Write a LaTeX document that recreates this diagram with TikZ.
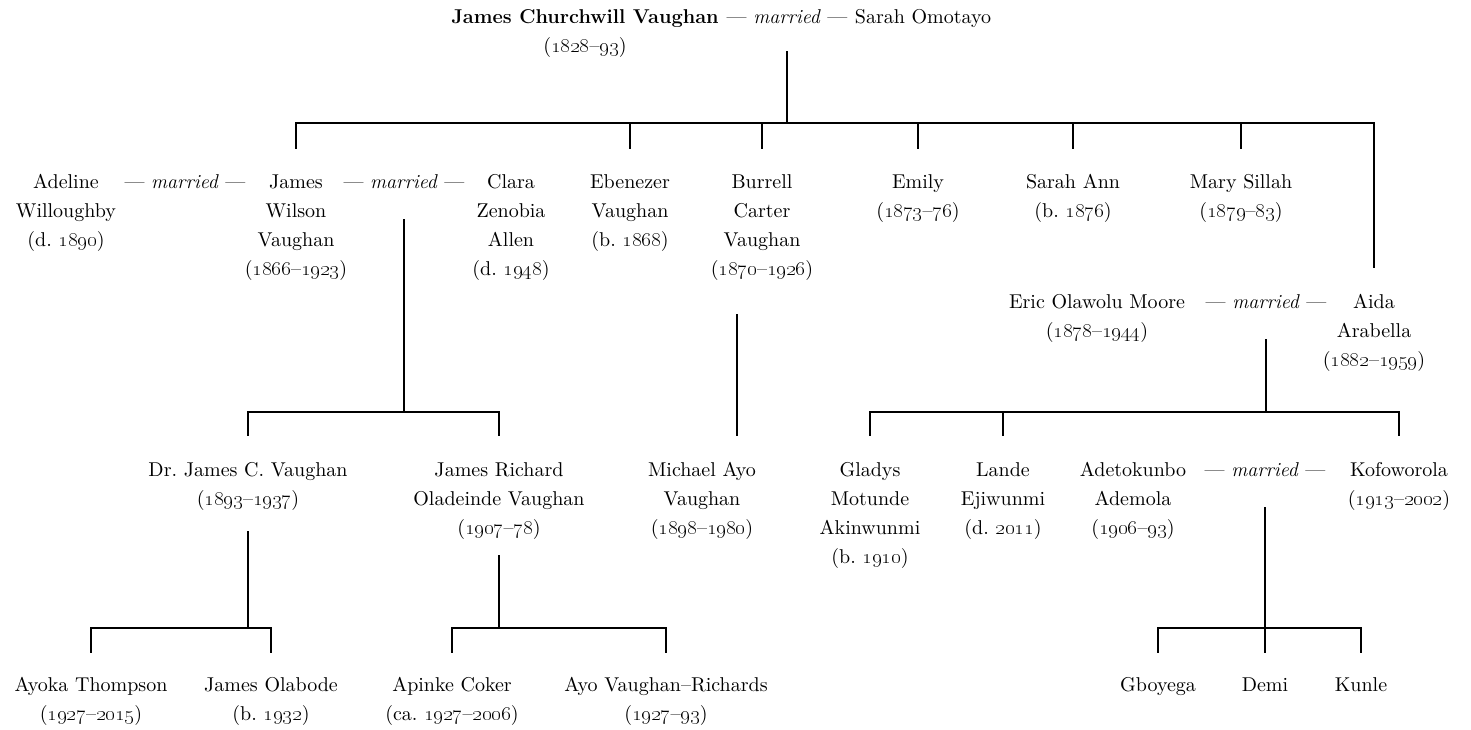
\documentclass[tikz,border=0pt]{standalone}
\DeclareFontShape{TU}{lmr}{m}{n}{<->"[lmroman10-regular]:mapping=tex-text;"}{}
\newcommand\os[1]{\oldstylenums{#1}}
\newcommand\pp[1]{\begin{tabular}[t]{@{}c@{}}#1\end{tabular}}
\tikzset{
  person/.style={anchor=base, inner sep=0pt, font=\fontsize{20}{29.3}\selectfont},
  conn/.style={line width=1.1pt, line cap=rect},
}
\begin{document}
\begin{tikzpicture}[x=1pt,y=-1pt]
\useasboundingbox (0,0) rectangle (1471,729);
% generation 0
\node[person] (jcvs) at (585,23) {\pp{\textbf{James Churchwill Vaughan}\\(\os{1828}--\os{93})}};
\node[person] (m0) at (787,23) {--- \textit{married} ---};
\node[person] (so) at (923,23) {Sarah Omotayo};
% generation 1
\node[person] (ad) at (66,188) {\pp{Adeline\\Willoughby\\(d.~\os{1890})}};
\node[person] (m1) at (185,188) {--- \textit{married} ---};
\node[person] (jwv) at (296,188) {\pp{James\\Wilson\\Vaughan\\(\os{1866}--\os{1923})}};
\node[person] (m2) at (404,188) {--- \textit{married} ---};
\node[person] (cza) at (511,188) {\pp{Clara\\Zenobia\\Allen\\(d.~\os{1948})}};
\node[person] (ebe) at (630,188) {\pp{Ebenezer\\Vaughan\\(b.~\os{1868})}};
\node[person] (bcv) at (762,188) {\pp{Burrell\\Carter\\Vaughan\\(\os{1870}--\os{1926})}};
\node[person] (emi) at (918,188) {\pp{Emily\\(\os{1873}--\os{76})}};
\node[person] (sa) at (1073,188) {\pp{Sarah Ann\\(b.~\os{1876})}};
\node[person] (ms) at (1241,188) {\pp{Mary Sillah\\(\os{1879}--\os{83})}};
\node[person] (eom) at (1097,308) {\pp{Eric Olawolu Moore\\(\os{1878}--\os{1944})}};
\node[person] (m3) at (1266,308) {--- \textit{married} ---};
\node[person] (aida) at (1374,308) {\pp{Aida\\Arabella\\(\os{1882}--\os{1959})}};
% generation 2
\node[person] (jcv) at (248,476) {\pp{Dr.~James C. Vaughan\\(\os{1893}--\os{1937})}};
\node[person] (jrov) at (499,476) {\pp{James Richard\\Oladeinde Vaughan\\(\os{1907}--\os{78})}};
\node[person] (mav) at (702,476) {\pp{Michael Ayo\\Vaughan\\(\os{1898}--\os{1980})}};
\node[person] (gma) at (870,476) {\pp{Gladys\\Motunde\\Akinwunmi\\(b.~\os{1910})}};
\node[person] (le) at (1003,476) {\pp{Lande\\Ejiwunmi\\(d.~\os{2011})}};
\node[person] (aa) at (1133,476) {\pp{Adetokunbo\\Ademola\\(\os{1906}--\os{93})}};
\node[person] (m4) at (1265,476) {--- \textit{married} ---};
\node[person] (kof) at (1399,476) {\pp{Kofoworola\\(\os{1913}--\os{2002})}};
% generation 3
\node[person] (ayt) at (91,691) {\pp{Ayoka Thompson\\(\os{1927}--\os{2015})}};
\node[person] (jo) at (271,691) {\pp{James Olabode\\(b.~\os{1932})}};
\node[person] (ac) at (452,691) {\pp{Apinke Coker\\(ca.~\os{1927}--\os{2006})}};
\node[person] (avr) at (666,691) {\pp{Ayo Vaughan--Richards\\(\os{1927}--\os{93})}};
\node[person] (gb) at (1158,691) {Gboyega};
\node[person] (demi) at (1265,691) {Demi};
\node[person] (ku) at (1361,691) {Kunle};
% levels
\coordinate (t0) at (0,52);   \coordinate (b0) at (0,123);  \coordinate (d0) at (0,148);
\coordinate (aidaend) at (0,267);
\coordinate (t2) at (0,220);  \coordinate (b1) at (0,412);  \coordinate (d1) at (0,435);
\coordinate (t3) at (0,340);
\coordinate (bl1) at (737,315); \coordinate (bl2) at (737,435);
\coordinate (t4) at (0,508);  \coordinate (b2) at (0,628);  \coordinate (d2) at (0,652);
\coordinate (t5) at (0,532);  \coordinate (t6) at (0,556);
% connectors
\draw[conn] (m0 |- t0) -- (m0 |- b0);
\draw[conn] (jwv |- d0) -- (jwv |- b0) -- (aida |- b0) -- (aida |- aidaend);
\foreach \n in {ebe,bcv,emi,sa,ms} \draw[conn] (\n |- b0) -- (\n |- d0);
\draw[conn] (m2 |- t2) -- (m2 |- b1);
\draw[conn] (jcv |- d1) -- (jcv |- b1) -- (jrov |- b1) -- (jrov |- d1);
\draw[conn] (bl1) -- (bl2);
\draw[conn] (m3 |- t3) -- (m3 |- b1);
\draw[conn] (gma |- d1) -- (gma |- b1) -- (kof |- b1) -- (kof |- d1);
\draw[conn] (le |- b1) -- (le |- d1);
\draw[conn] (jcv |- t5) -- (jcv |- b2);
\draw[conn] (ayt |- d2) -- (ayt |- b2) -- (jo |- b2) -- (jo |- d2);
\draw[conn] (jrov |- t6) -- (jrov |- b2);
\draw[conn] (ac |- d2) -- (ac |- b2) -- (avr |- b2) -- (avr |- d2);
\draw[conn] (m4 |- t4) -- (m4 |- b2);
\draw[conn] (gb |- d2) -- (gb |- b2) -- (ku |- b2) -- (ku |- d2);
\draw[conn] (demi |- b2) -- (demi |- d2);
\end{tikzpicture}
\end{document}
